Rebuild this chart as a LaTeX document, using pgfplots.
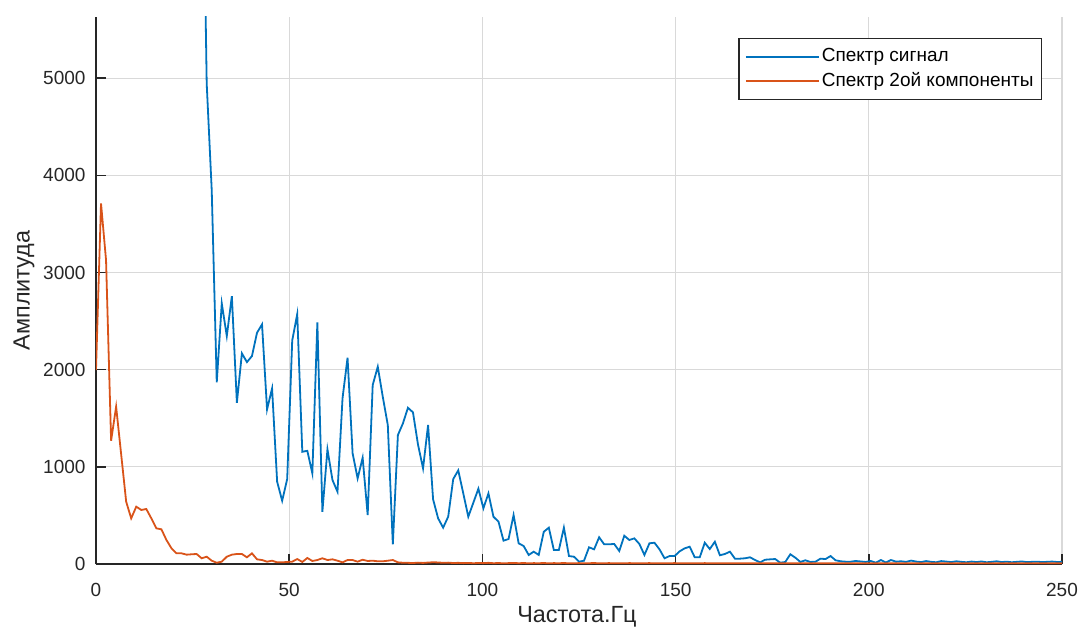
\documentclass[border=0pt]{standalone}
\usepackage{fontspec}
\setmainfont{Liberation Sans}
\usepackage{pgfplots}
\pgfplotsset{compat=1.18}
\usepackage{pgfplotstable}
\definecolor{mblue}{rgb}{0,0.447,0.741}
\definecolor{morange}{rgb}{0.85,0.325,0.098}
\definecolor{axc}{rgb}{0.15,0.15,0.15}
\definecolor{gridc}{rgb}{0.85,0.85,0.85}

\pgfplotstableread{
x y
26.04 9500
27.34 8300
28.65 4945
29.95 3848
31.25 1869
32.55 2682
33.85 2346
35.16 2757
36.46 1660
37.76 2168
39.06 2078
40.36 2140
41.67 2380
42.97 2466
44.27 1591
45.57 1807
46.88 847
48.18 651
49.48 874
50.78 2300
52.08 2572
53.39 1155
54.69 1165
55.99 933
57.29 2487
58.59 538
59.90 1180
61.20 864
62.50 744
63.80 1705
65.10 2123
66.41 1139
67.71 881
69.01 1094
70.31 504
71.61 1842
72.92 2030
74.22 1721
75.52 1430
76.82 203
78.13 1327
79.43 1447
80.73 1608
82.03 1561
83.33 1230
84.64 984
85.94 1430
87.24 665
88.54 470
89.84 374
91.15 487
92.45 874
93.75 964
95.05 727
96.35 487
97.66 631
98.96 775
100.26 573
101.56 727
102.86 487
104.17 435
105.47 240
106.77 257
108.07 504
109.38 213
110.68 185
111.98 93
113.28 127
114.58 93
115.89 332
117.19 374
118.49 144
119.79 144
121.09 374
122.40 82
123.70 75
125.00 24
126.30 34
127.60 172
128.91 151
130.21 275
131.51 203
132.81 203
134.11 206
135.42 134
136.72 291
138.02 247
139.32 264
140.63 206
141.93 93
143.23 213
144.53 219
145.83 151
147.14 59
148.44 82
149.74 82
151.04 130
152.34 161
153.65 178
154.95 69
156.25 69
157.55 219
158.85 154
160.16 229
161.46 90
162.76 103
164.06 127
165.36 55
166.67 55
167.97 59
169.27 69
170.57 41
171.88 17
173.18 44
174.48 48
175.78 51
177.08 13
178.39 21
179.69 100
180.99 65
182.29 21
183.59 38
184.90 21
186.20 24
187.50 55
188.80 51
190.10 82
191.41 38
192.71 28
194.01 24
195.31 24
196.61 31
197.92 26
199.22 21
200.52 31
201.82 13
203.13 41
204.43 15
205.73 41
207.03 24
208.33 28
209.64 22
210.94 35
212.24 25
213.54 20
214.84 30
216.15 22
217.45 18
218.75 30
220.05 25
221.35 20
222.66 28
223.96 22
225.26 18
226.56 25
227.86 20
229.17 26
230.47 18
231.77 22
233.07 28
234.38 20
235.68 24
236.98 18
238.28 22
239.58 26
240.89 20
242.19 22
243.49 24
244.79 20
246.09 22
247.40 25
248.70 21
250.00 22
}\bluedata

\pgfplotstableread{
x y
0.00 1996
1.30 3711
2.60 3128
3.91 1269
5.21 1619
6.51 1130
7.81 641
9.11 470
10.42 590
11.72 556
13.02 566
14.32 470
15.63 367
16.93 357
18.23 247
19.53 162
20.83 110
22.14 110
23.44 96
24.74 100
26.04 103
27.34 59
28.65 75
29.95 34
31.25 13
32.55 24
33.85 75
35.16 96
36.46 103
37.76 103
39.06 69
40.36 110
41.67 48
42.97 41
44.27 24
45.57 34
46.88 17
48.18 17
49.48 21
50.78 24
52.08 51
53.39 21
54.69 62
55.99 31
57.29 41
58.59 59
59.90 41
61.20 48
62.50 34
63.80 17
65.10 41
66.41 41
67.71 24
69.01 44
70.31 31
71.61 34
72.92 28
74.22 28
75.52 34
76.82 41
78.13 17
79.43 13
80.73 12
82.03 10
83.33 14
84.64 11
85.94 15
87.24 18
88.54 16
89.84 12
91.15 14
92.45 10
93.75 12
95.05 9
96.35 11
97.66 8
98.96 10
100.26 9
101.56 12
102.86 8
104.17 10
105.47 7
106.77 9
108.07 11
109.38 8
110.68 10
111.98 7
113.28 9
114.58 8
115.89 10
117.19 7
118.49 9
119.79 8
121.09 10
122.40 7
123.70 8
125.00 9
126.30 7
127.60 8
128.91 10
130.21 7
131.51 8
132.81 9
134.11 7
135.42 8
136.72 7
138.02 9
139.32 8
140.63 7
141.93 8
143.23 9
144.53 7
145.83 8
147.14 7
148.44 8
149.74 9
151.04 7
152.34 8
153.65 7
154.95 8
156.25 7
157.55 9
158.85 7
160.16 8
161.46 7
162.76 8
164.06 7
165.36 8
166.67 7
167.97 8
169.27 7
170.57 8
171.88 7
173.18 8
174.48 7
175.78 8
177.08 7
178.39 8
179.69 7
180.99 8
182.29 7
183.59 8
184.90 7
186.20 8
187.50 7
188.80 8
190.10 7
191.41 8
192.71 7
194.01 8
195.31 7
196.61 8
197.92 7
199.22 8
200.52 7
201.82 8
203.13 7
204.43 8
205.73 7
207.03 8
208.33 7
209.64 8
210.94 7
212.24 8
213.54 7
214.84 8
216.15 7
217.45 8
218.75 7
220.05 8
221.35 7
222.66 8
223.96 7
225.26 8
226.56 7
227.86 8
229.17 7
230.47 8
231.77 7
233.07 8
234.38 7
235.68 8
236.98 7
238.28 8
239.58 7
240.89 8
242.19 7
243.49 8
244.79 7
246.09 8
247.40 7
248.70 8
250.00 7
}\orangedata

\begin{document}
\fontsize{19bp}{23bp}\selectfont
\begin{tikzpicture}
\path[use as bounding box] (-96bp,-63bp) rectangle (986bp,564bp);
\begin{axis}[
  at={(0,0)}, anchor=south west,
  scale only axis, width=966bp, height=547bp,
  xmin=0, xmax=250, ymin=0, ymax=5630,
  axis x line*=bottom, axis y line*=left,
  tick align=inside,
  major tick length=10bp,
  xtick={0,50,...,250}, ytick={0,1000,...,5000},
  grid=major, grid style={color=gridc, line width=1.3bp},
  axis line style={axc, line width=1.5bp},
  tick style={axc, line width=1.5bp},
  ticklabel style={text=axc, font=\fontsize{19bp}{23bp}\selectfont},
  xticklabel style={yshift=-13bp},
  yticklabel style={xshift=-4bp},
  /pgf/number format/1000 sep={},
  /pgf/number format/assume math mode=true,
  scaled ticks=false,
  xlabel={Частота.Гц}, ylabel={Амплитуда},
  label style={text=axc, font=\fontsize{23.4bp}{27bp}\selectfont},
  xlabel style={at={(axis description cs:0.4979,-0.0965)}, anchor=center},
  ylabel style={at={(axis description cs:-0.0745,0.5)}, anchor=center},
  legend style={at={(0.9793,0.9616)}, anchor=north east, draw=axc, line width=1.2bp,
    fill=white, font=\fontsize{19bp}{23bp}\selectfont, inner xsep=6bp, inner ysep=8bp,
    row sep=4bp, text=black},
  legend cell align=left,
  legend image code/.code={\path (-7bp,0bp) -- (66bp,0bp); \draw[#1, line width=1.8bp] (0bp,0bp) -- (60bp,0bp);},
]
\addplot[mblue, line width=1.8bp] table {\bluedata};
\addplot[morange, line width=1.8bp] table {\orangedata};
\legend{Спектр сигнал, Спектр 2ой компоненты}
\end{axis}
\end{tikzpicture}
\end{document}
